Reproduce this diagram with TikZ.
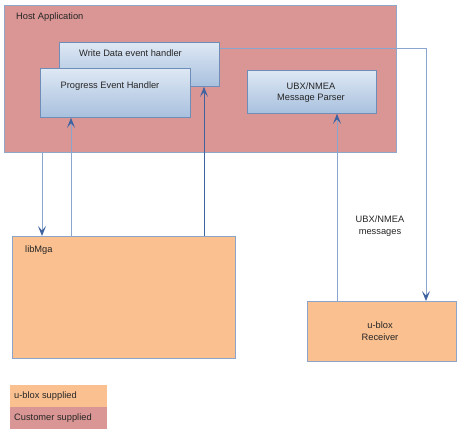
\documentclass[tikz,border=0pt]{standalone}
\usepackage{fontspec}
\setmainfont{Liberation Sans}
\usetikzlibrary{arrows.meta,calc}
\definecolor{hostpink}{HTML}{D99694}
\definecolor{hostedge}{HTML}{8FA8CA}
\definecolor{orangefill}{HTML}{FAC090}
\definecolor{boxtop}{HTML}{DEE8F4}
\definecolor{boxbot}{HTML}{A8C0DE}
\definecolor{boxedge}{HTML}{6F8DB9}
\definecolor{arrowcol}{HTML}{3F62A0}
\definecolor{linelight}{HTML}{8AA6CF}
\tikzset{
  txt/.style={font=\fontsize{9.3}{11.5}\selectfont, text=black!85, inner sep=0pt, align=center},
  hostbox/.style={draw=hostedge, fill=hostpink, line width=0.8pt, inner sep=0pt, anchor=north west},
  handler/.style={draw=boxedge, line width=0.8pt, top color=boxtop, bottom color=boxbot, inner sep=0pt, anchor=north west},
  orangebox/.style={draw=boxedge!80, fill=orangefill, line width=0.8pt, inner sep=0pt, anchor=north west},
  legbox/.style={draw=none, inner sep=0pt, anchor=north west},
  arr/.style={draw=arrowcol, line width=1pt, -{Stealth[length=10pt,width=8pt,inset=4.5pt]}},
  lightarr/.style={draw=linelight, line width=1pt, -{Stealth[length=10pt,width=8pt,inset=4.5pt,color=arrowcol]}},
}
\begin{document}
\begin{tikzpicture}[x=1pt,y=-1pt]
\useasboundingbox (0,0) rectangle (459,433);
% Host application
\node[hostbox, minimum width=392pt, minimum height=147pt] (host) at (4,5) {};
\node[txt, anchor=west] (hosttxt) at (16,17) {Host Application};
% handlers
\node[handler, minimum width=160pt, minimum height=44pt] (write) at (59,42) {};
\node[txt] (writetxt) at (130.5,53) {Write Data event handler};
\node[handler, minimum width=150pt, minimum height=49pt] (prog) at (40,68) {};
\node[txt] (progtxt) at (110,86) {Progress Event Handler};
\node[handler, minimum width=129pt, minimum height=43pt] (parser) at (247,70) {};
\node[txt] (parsertxt) at (311,92.5) {UBX/NMEA\\Message Parser};
% lower boxes
\node[orangebox, minimum width=223pt, minimum height=122pt] (libmga) at (12,236) {};
\node[txt, anchor=west] (libmgatxt) at (25,250) {libMga};
\node[orangebox, minimum width=149pt, minimum height=60pt] (recv) at (307,301) {};
\node[txt] (recvtxt) at (380,331) {u-blox\\Receiver};
% legend
\node[legbox, fill=orangefill, minimum width=97pt, minimum height=22pt] (legu) at (10,385) {};
\node[legbox, fill=hostpink, minimum width=97pt, minimum height=22pt] (legc) at (10,407) {};
\node[txt, anchor=west] (legutxt) at (14,396) {u-blox supplied};
\node[txt, anchor=west] (legctxt) at (14,418) {Customer supplied};
% label
\node[txt] (msgtxt) at (380,226) {UBX/NMEA\\messages};
% connector x positions
\coordinate (xa) at (42,0);
\coordinate (xb) at (71,0);
\coordinate (xc) at (204,0);
\coordinate (xd) at (426,0);
\coordinate (xe) at (337,0);
\coordinate (ywr) at (0,49);
\coordinate (corner) at (426,49);
% connectors
\draw[lightarr] (host.south -| xa) -- (libmga.north -| xa);
\draw[lightarr] (libmga.north -| xb) -- (prog.south -| xb);
\draw[arr] (libmga.north -| xc) -- (write.south -| xc);
\draw[lightarr] (write.east |- ywr) -- (corner) -- (recv.north -| xd);
\draw[lightarr] (recv.north -| xe) -- (parser.south -| xe);
\end{tikzpicture}
\end{document}
